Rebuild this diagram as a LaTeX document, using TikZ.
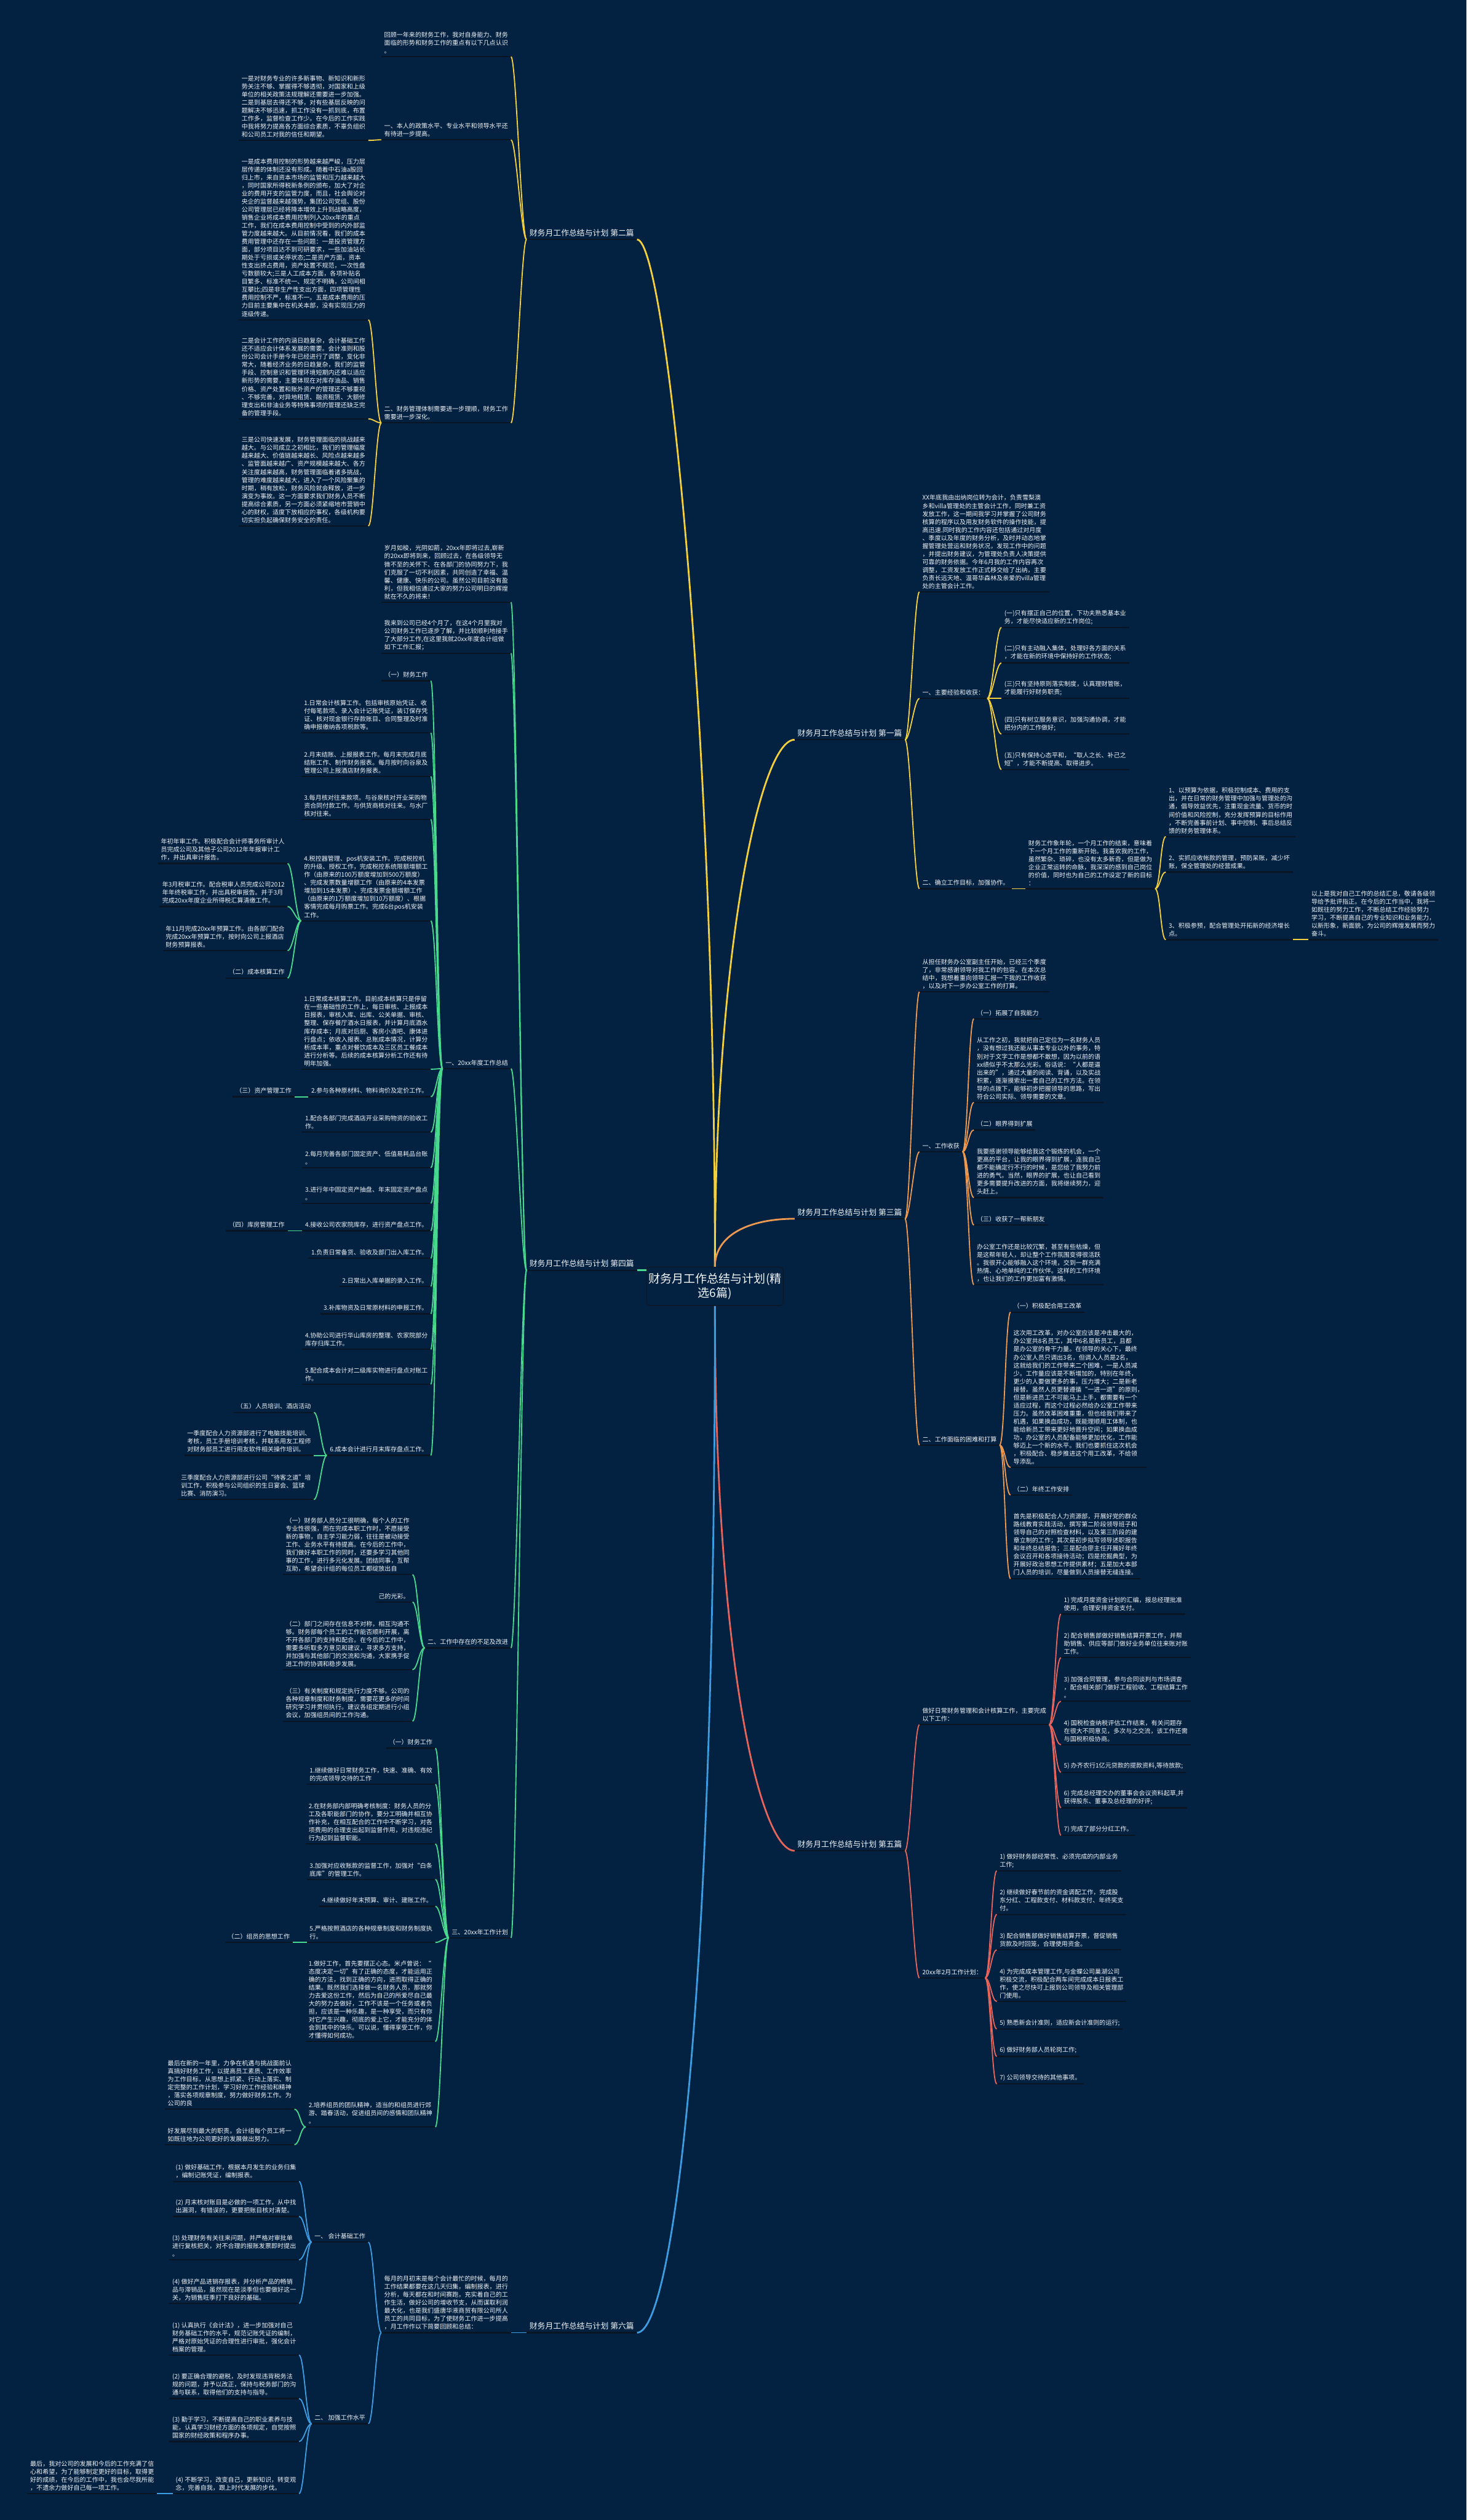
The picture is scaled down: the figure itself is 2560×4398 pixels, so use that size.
\documentclass[tikz,border=0pt]{standalone}
\usepackage{fontspec}
\setmainfont{Noto Sans CJK SC}
\usepackage{tikz}
\definecolor{bgnavy}{HTML}{032241}
\definecolor{ulinecol}{HTML}{0A1524}
\definecolor{textcol}{HTML}{F2F4F7}
\definecolor{rootborder}{HTML}{0C1828}
\definecolor{yellowbr}{HTML}{F4D03F}
\definecolor{orangebr}{HTML}{EE9950}
\definecolor{greenbr}{HTML}{48D88E}
\definecolor{redbr}{HTML}{E5645C}
\definecolor{bluebr}{HTML}{3C9DE2}
\newcommand{\leaffont}{\fontsize{10.8}{14}\selectfont}
\newcommand{\topicfont}{\fontsize{13.8}{17}\selectfont}
\newcommand{\rootfont}{\fontsize{20.5}{24}\selectfont}
\tikzset{
  leaf/.style={text=textcol, font=\leaffont, align=left, inner xsep=5pt, inner ysep=5pt,
    append after command={(\tikzlastnode.south west) edge[draw=ulinecol, line width=2.4pt] (\tikzlastnode.south east)}},
  topic/.style={leaf, font=\topicfont},
  rootbox/.style={draw=rootborder, line width=1.5pt, fill=bgnavy, rounded corners=5pt, text=textcol,
    font=\rootfont, align=center, minimum width=235pt, minimum height=67pt, inner sep=3pt},
  lnk/.style={line width=2pt},
  lkl/.style={lnk, to path={.. controls +(-9,0) and +(9,0) .. (\tikztotarget)}},
  lkr/.style={lnk, to path={.. controls +(9,0) and +(-9,0) .. (\tikztotarget)}},
  rootlnk/.style={line width=3pt}
}

\begin{document}
\begin{tikzpicture}[x=1pt, y=-1pt]
    \fill[bgnavy] (0,0) rectangle (2560,4398);
    \useasboundingbox (0,0) rectangle (2560,4398);

    \node[rootbox] (root) at (1248,2245) {财务月工作总结与计划(精\\选6篇)};

    \node[topic, anchor=south east] (p2) at (1112,418) {财务月工作总结与计划 第二篇};
    \node[topic, anchor=south east] (p4) at (1112,2217) {财务月工作总结与计划 第四篇};
    \node[topic, anchor=south east] (p6) at (1112,4071) {财务月工作总结与计划 第六篇};
    \node[topic, anchor=south west] (p1) at (1387,1291) {财务月工作总结与计划 第一篇};
    \node[topic, anchor=south west] (p3) at (1387,2127) {财务月工作总结与计划 第三篇};
    \node[topic, anchor=south west] (p5) at (1387,3230) {财务月工作总结与计划 第五篇};

    \draw[rootlnk, yellowbr] (root.north) .. controls +(0,-950) and +(50,0) .. (p2.south east);
    \draw[rootlnk, yellowbr] (root.north) .. controls +(0,-550) and +(-60,0) .. (p1.south west);
    \draw[rootlnk, orangebr] (root.north) .. controls +(0,-55) and +(-80,0) .. (p3.south west);
    \draw[rootlnk, greenbr] (p4.south east) -- (p4.south east -| root.west);
    \draw[rootlnk, redbr] (root.south) .. controls +(0,620) and +(-60,0) .. (p5.south west);
    \draw[rootlnk, bluebr] (root.south) .. controls +(0,1250) and +(60,0) .. (p6.south east);

    \node[leaf, anchor=south east] (b2a) at (892,99) {回顾一年来的财务工作，我对自身能力、财务\\面临的形势和财务工作的重点有以下几点认识\\。};
    \node[leaf, anchor=south east] (b2b) at (892,244) {一、本人的政策水平、专业水平和领导水平还\\有待进一步提高。};
    \node[leaf, anchor=south east] (b2c) at (892,738) {二、财务管理体制需要进一步理顺，财务工作\\需要进一步深化。};
    \node[leaf, anchor=south east] (b2d) at (643,245) {一是对财务专业的许多新事物、新知识和新形\\势关注不够、掌握得不够透彻，对国家和上级\\单位的相关政策法规理解还需要进一步加强。\\二是到基层去得还不够，对有些基层反映的问\\题解决不够迅速，抓工作没有一抓到底，布置\\工作多，监督检查工作少。在今后的工作实践\\中我将努力提高各方面综合素质，不辜负组织\\和公司员工对我的信任和期望。};
    \node[leaf, anchor=south east] (b2e) at (643,558) {一是成本费用控制的形势越来越严峻，压力层\\层传递的体制还没有形成。随着中石油a股回\\归上市，来自资本市场的监管和压力越来越大\\，同时国家所得税新条例的颁布，加大了对企\\业的费用开支的监管力度，而且，社会舆论对\\央企的监督越来越强势，集团公司党组、股份\\公司管理层已经将降本增效上升到战略高度，\\销售企业将成本费用控制列入20xx年的重点\\工作，我们在成本费用控制中受到的内外部监\\管力度越来越大。从目前情况看，我们的成本\\费用管理中还存在一些问题：一是投资管理方\\面，部分项目达不到可研要求，一些加油站长\\期处于亏损或关停状态;二是资产方面，资本\\性支出挤占费用，资产处置不规范，一次性盘\\亏数额较大;三是人工成本方面，各项补贴名\\目繁多、标准不统一、规定不明确，公司间相\\互攀比;四是非生产性支出方面，四项管理性\\费用控制不严，标准不一。五是成本费用的压\\力目前主要集中在机关本部，没有实现压力的\\逐级传递。};
    \node[leaf, anchor=south east] (b2f) at (643,731) {二是会计工作的内涵日趋复杂，会计基础工作\\还不适应会计体系发展的需要。会计准则和股\\份公司会计手册今年已经进行了调整，变化非\\常大，随着经济业务的日趋复杂，我们的监管\\手段、控制意识和管理环境短期内还难以适应\\新形势的需要，主要体现在对库存油品、销售\\价格、资产处置和账外资产的管理还不够重视\\、不够完善，对异地租赁、融资租赁、大额修\\理支出和非油业务等特殊事项的管理还缺乏完\\备的管理手段。};
    \node[leaf, anchor=south east] (b2g) at (643,918) {三是公司快速发展，财务管理面临的挑战越来\\越大。与公司成立之初相比，我们的管理幅度\\越来越大、价值链越来越长、风险点越来越多\\、监管面越来越广、资产规模越来越大、各方\\关注度越来越高，财务管理面临着诸多挑战，\\管理的难度越来越大，进入了一个风险聚集的\\时期，稍有放松，财务风险就会释放，进一步\\演变为事故。这一方面要求我们财务人员不断\\提高综合素质，另一方面必须紧缩地市营销中\\心的财权，适度下放相应的事权，各级机构要\\切实担负起确保财务安全的责任。};

    \draw[lkl, yellowbr] (p2.south west) to (b2a.south east);
    \draw[lkl, yellowbr] (p2.south west) to (b2b.south east);
    \draw[lkl, yellowbr] (p2.south west) to (b2c.south east);
    \draw[lkl, yellowbr] (b2b.south west) to (b2d.south east);
    \draw[lkl, yellowbr] (b2c.south west) to (b2e.south east);
    \draw[lkl, yellowbr] (b2c.south west) to (b2f.south east);
    \draw[lkl, yellowbr] (b2c.south west) to (b2g.south east);

    \node[leaf, anchor=south east] (d1) at (892,1051) {岁月如梭，光阴如箭，20xx年即将过去,崭新\\的20xx即将到来，回顾过去，在各级领导无\\微不至的关怀下、在各部门的协同努力下，我\\们克服了一切不利因素，共同创造了幸福、温\\馨、健康、快乐的公司。虽然公司目前没有盈\\利，但我相信通过大家的努力公司明日的辉煌\\就在不久的将来！};
    \node[leaf, anchor=south east] (d2) at (892,1140) {我来到公司已经4个月了，在这4个月里我对\\公司财务工作已逐步了解，并比较顺利地接手\\了大部分工作,在这里我就20xx年度会计组做\\如下工作汇报；};
    \node[leaf, anchor=south east] (d3) at (892,1865) {一、20xx年度工作总结};
    \node[leaf, anchor=south east] (d4) at (892,2876) {二、工作中存在的不足及改进};
    \node[leaf, anchor=south east] (d5) at (892,3382) {三、20xx年工作计划};

    \node[leaf, anchor=south east] (e1) at (752,1188) {（一）财务工作};
    \node[leaf, anchor=south east] (e2) at (752,1279) {1.日常会计核算工作。包括审核原始凭证、收\\付每笔款项、录入会计记账凭证，装订保存凭\\证、核对现金银行存款账目、合同整理及时准\\确申报缴纳各项税款等。};
    \node[leaf, anchor=south east] (e3) at (752,1355) {2.月末结账、上报报表工作。每月末完成月底\\结账工作、制作财务报表。每月按时向谷泉及\\管理公司上报酒店财务报表。};
    \node[leaf, anchor=south east] (e4) at (752,1430) {3.每月核对往来款项。与谷泉核对开业采购物\\资合同付款工作。与供货商核对往来。与水厂\\核对往来。};
    \node[leaf, anchor=south east] (e5) at (752,1607) {4.税控器管理、pos机安装工作。完成税控机\\的升级、授权工作，完成税控系统限额增额工\\作（由原来的100万额度增加到500万额度）\\、完成发票数量增额工作（由原来的4本发票\\增加到15本发票）、完成发票金额增额工作\\（由原来的1万额度增加到10万额度）、根据\\客情完成每月购票工作。完成6台pos机安装\\工作。};
    \node[leaf, anchor=south east] (f1) at (502,1507) {年初年审工作。积极配合会计师事务所审计人\\员完成公司及其他子公司2012年年报审计工\\作，并出具审计报告。};
    \node[leaf, anchor=south east] (f2) at (502,1582) {年3月税审工作。配合税审人员完成公司2012\\年年终税审工作，并出具税审报告。并于3月\\完成20xx年度企业所得税汇算清缴工作。};
    \node[leaf, anchor=south east] (f3) at (502,1659) {年11月完成20xx年预算工作。由各部门配合\\完成20xx年预算工作，按时向公司上报酒店\\财务预算报表。};
    \node[leaf, anchor=south east] (f4) at (502,1707) {（二）成本核算工作};
    \node[leaf, anchor=south east] (e6) at (752,1866) {1.日常成本核算工作。目前成本核算只是停留\\在一些基础性的工作上，每日审核、上报成本\\日报表，审核入库、出库、公关单据、审核、\\整理、保存餐厅酒水日报表，并计算月底酒水\\库存成本；月底对后厨、客房小酒吧、康体进\\行盘点；依收入报表、总账成本情况，计算分\\析成本率，重点对餐饮成本及三区员工餐成本\\进行分析等。后续的成本核算分析工作还有待\\明年加强。};
    \node[leaf, anchor=south east] (e7) at (752,1914) {2.参与各种原材料、物料询价及定价工作。};
    \node[leaf, anchor=south east] (g7) at (514,1914) {（三）资产管理工作};
    \node[leaf, anchor=south east] (e8) at (752,1976) {1.配合各部门完成酒店开业采购物资的验收工\\作。};
    \node[leaf, anchor=south east] (e9) at (752,2038) {2.每月完善各部门固定资产、低值易耗品台账\\。};
    \node[leaf, anchor=south east] (e10) at (752,2100) {3.进行年中固定资产抽盘、年末固定资产盘点\\。};
    \node[leaf, anchor=south east] (e11) at (752,2148) {4.接收公司农家院库存，进行资产盘点工作。};
    \node[leaf, anchor=south east] (g11) at (502,2148) {（四）库房管理工作};
    \node[leaf, anchor=south east] (e12) at (752,2196) {1.负责日常备货、验收及部门出入库工作。};
    \node[leaf, anchor=south east] (e13) at (752,2245) {2.日常出入库单据的录入工作。};
    \node[leaf, anchor=south east] (e14) at (752,2293) {3.补库物资及日常原材料的申报工作。};
    \node[leaf, anchor=south east] (e15) at (752,2355) {4.协助公司进行华山库房的整理、农家院部分\\库存归库工作。};
    \node[leaf, anchor=south east] (e16) at (752,2416) {5.配合成本会计对二级库实物进行盘点对账工\\作。};
    \node[leaf, anchor=south east] (e17) at (752,2540) {6.成本会计进行月末库存盘点工作。};
    \node[leaf, anchor=south east] (h1) at (548,2465) {（五）人员培训、酒店活动};
    \node[leaf, anchor=south east] (h2) at (548,2540) {一季度配合人力资源部进行了电脑技能培训、\\考核，员工手册培训考核，并联系用友工程师\\对财务部员工进行用友软件相关操作培训。};
    \node[leaf, anchor=south east] (h3) at (548,2617) {三季度配合人力资源部进行公司“待客之道”培\\训工作，积极参与公司组织的生日宴会、篮球\\比赛、消防演习。};

    \node[leaf, anchor=south east] (i1) at (720,2748) {（一）财务部人员分工很明确，每个人的工作\\专业性很强，而在完成本职工作时，不愿接受\\新的事物，自主学习能力弱，往往是被动接受\\工作、业务水平有待提高。在今后的工作中，\\我们做好本职工作的同时，还要多学习其他同\\事的工作，进行多元化发展。团结同事，互帮\\互助，希望会计组的每位员工都绽放出自};
    \node[leaf, anchor=south east] (i2) at (720,2796) {己的光彩。};
    \node[leaf, anchor=south east] (i3) at (720,2914) {（二）部门之间存在信息不对称，相互沟通不\\够。财务部每个员工的工作能否顺利开展，离\\不开各部门的支持和配合。在今后的工作中，\\需要多听取多方意见和建议，寻求多方支持，\\并加强与其他部门的交流和沟通，大家携手促\\进工作的协调和稳步发展。};
    \node[leaf, anchor=south east] (i4) at (720,3004) {（三）有关制度和规定执行力度不够。公司的\\各种规章制度和财务制度，需要花更多的时间\\研究学习并贯彻执行。建议各组定期进行小组\\会议，加强组员间的工作沟通。};

    \node[leaf, anchor=south east] (j1) at (760,3051) {（一）财务工作};
    \node[leaf, anchor=south east] (j2) at (760,3114) {1.继续做好日常财务工作，快速、准确、有效\\的完成领导交待的工作};
    \node[leaf, anchor=south east] (j3) at (760,3218) {2.在财务部内部明确考核制度：财务人员的分\\工及各职能部门的协作，要分工明确并相互协\\作补充，在相互配合的工作中不断学习，对各\\项费用的合理支出起到监督作用，对违规违纪\\行为起到监督职能。};
    \node[leaf, anchor=south east] (j4) at (760,3280) {3.加强对应收账款的监督工作，加强对“白条\\底库”的管理工作。};
    \node[leaf, anchor=south east] (j5) at (760,3327) {4.继续做好年末预算、审计、建账工作。};
    \node[leaf, anchor=south east] (j6) at (760,3390) {5.严格按照酒店的各种规章制度和财务制度执\\行。};
    \node[leaf, anchor=south east] (k6) at (511,3390) {（二）组员的思想工作};
    \node[leaf, anchor=south east] (j7) at (760,3563) {1.做好工作，首先要摆正心态。米卢曾说：“\\态度决定一切”有了正确的态度，才能运用正\\确的方法，找到正确的方向，进而取得正确的\\结果。既然我们选择做一名财务人员，那就努\\力去爱这份工作，然后为自己的所爱尽自己最\\大的努力去做好，工作不该是一个任务或者负\\担，应该是一种乐趣，是一种享受，而只有你\\对它产生兴趣，彻底的爱上它，才能充分的体\\会到其中的快乐。可以说，懂得享受工作，你\\才懂得如何成功。};
    \node[leaf, anchor=south east] (j8) at (760,3712) {2.培养组员的团队精神，适当的和组员进行郊\\游、踏春活动，促进组员间的感情和团队精神\\。};
    \node[leaf, anchor=south east] (k8a) at (514,3681) {最后在新的一年里，力争在机遇与挑战面前认\\真搞好财务工作，以提高员工素质、工作效率\\为工作目标，从思想上抓紧、行动上落实、制\\定完整的工作计划，学习好的工作经验和精神\\，落实各项规章制度，努力做好财务工作。为\\公司的良};
    \node[leaf, anchor=south east] (k8b) at (514,3743) {好发展尽到最大的职责。会计组每个员工将一\\如既往地为公司更好的发展做出努力。};

    \draw[lkl, greenbr] (p4.south west) to (d1.south east);
    \draw[lkl, greenbr] (p4.south west) to (d2.south east);
    \draw[lkl, greenbr] (p4.south west) to (d3.south east);
    \draw[lkl, greenbr] (p4.south west) to (d4.south east);
    \draw[lkl, greenbr] (p4.south west) to (d5.south east);
    \draw[lkl, greenbr] (d3.south west) to (e1.south east);
    \draw[lkl, greenbr] (d3.south west) to (e2.south east);
    \draw[lkl, greenbr] (d3.south west) to (e3.south east);
    \draw[lkl, greenbr] (d3.south west) to (e4.south east);
    \draw[lkl, greenbr] (d3.south west) to (e5.south east);
    \draw[lkl, greenbr] (d3.south west) to (e6.south east);
    \draw[lkl, greenbr] (d3.south west) to (e7.south east);
    \draw[lkl, greenbr] (d3.south west) to (e8.south east);
    \draw[lkl, greenbr] (d3.south west) to (e9.south east);
    \draw[lkl, greenbr] (d3.south west) to (e10.south east);
    \draw[lkl, greenbr] (d3.south west) to (e11.south east);
    \draw[lkl, greenbr] (d3.south west) to (e12.south east);
    \draw[lkl, greenbr] (d3.south west) to (e13.south east);
    \draw[lkl, greenbr] (d3.south west) to (e14.south east);
    \draw[lkl, greenbr] (d3.south west) to (e15.south east);
    \draw[lkl, greenbr] (d3.south west) to (e16.south east);
    \draw[lkl, greenbr] (d3.south west) to (e17.south east);
    \draw[lkl, greenbr] (e5.south west) to (f1.south east);
    \draw[lkl, greenbr] (e5.south west) to (f2.south east);
    \draw[lkl, greenbr] (e5.south west) to (f3.south east);
    \draw[lkl, greenbr] (e5.south west) to (f4.south east);
    \draw[lkl, greenbr] (e7.south west) to (g7.south east);
    \draw[lkl, greenbr] (e11.south west) to (g11.south east);
    \draw[lkl, greenbr] (e17.south west) to (h1.south east);
    \draw[lkl, greenbr] (e17.south west) to (h2.south east);
    \draw[lkl, greenbr] (e17.south west) to (h3.south east);
    \draw[lkl, greenbr] (d4.south west) to (i1.south east);
    \draw[lkl, greenbr] (d4.south west) to (i2.south east);
    \draw[lkl, greenbr] (d4.south west) to (i3.south east);
    \draw[lkl, greenbr] (d4.south west) to (i4.south east);
    \draw[lkl, greenbr] (d5.south west) to (j1.south east);
    \draw[lkl, greenbr] (d5.south west) to (j2.south east);
    \draw[lkl, greenbr] (d5.south west) to (j3.south east);
    \draw[lkl, greenbr] (d5.south west) to (j4.south east);
    \draw[lkl, greenbr] (d5.south west) to (j5.south east);
    \draw[lkl, greenbr] (d5.south west) to (j6.south east);
    \draw[lkl, greenbr] (d5.south west) to (j7.south east);
    \draw[lkl, greenbr] (d5.south west) to (j8.south east);
    \draw[lkl, greenbr] (j6.south west) to (k6.south east);
    \draw[lkl, greenbr] (j8.south west) to (k8a.south east);
    \draw[lkl, greenbr] (j8.south west) to (k8b.south east);

    \node[leaf, anchor=south east] (m0) at (892,4071) {每月的月初末是每个会计最忙的时候，每月的\\工作结果都要在这几天归集，编制报表，进行\\分析，每天都在和时间赛跑，充实着自己的工\\作生活，做好公司的增收节支，从而谋取利润\\最大化，也是我们盛唐华液商贸有限公司所人\\员工的共同目标，为了使财务工作进一步提高\\，月工作作以下简要回顾和总结：};
    \node[leaf, anchor=south east] (m1) at (643,3913) {一、 会计基础工作};
    \node[leaf, anchor=south east] (m2) at (643,4230) {二、 加强工作水平};
    \node[leaf, anchor=south east] (n1) at (522,3807) {(1) 做好基础工作，根据本月发生的业务归集\\，编制记账凭证，编制报表。};
    \node[leaf, anchor=south east] (n2) at (522,3868) {(2) 月末核对账目是必做的一项工作，从中找\\出漏洞，有错误的，更要把账目核对清楚。};
    \node[leaf, anchor=south east] (n3) at (522,3944) {(3) 处理财务有关往来问题，并严格对审批单\\进行复核把关，对不合理的报账发票即时提出\\。};
    \node[leaf, anchor=south east] (n4) at (522,4020) {(4) 做好产品进销存报表，并分析产品的畅销\\品与滞销品，虽然现在是淡季但也要做好这一\\关，为销售旺季打下良好的基础。};
    \node[leaf, anchor=south east] (n5) at (522,4110) {(1) 认真执行《会计法》，进一步加强对自己\\财务基础工作的水平，规范记账凭证的编制，\\严格对原始凭证的合理性进行审批，强化会计\\档案的管理。};
    \node[leaf, anchor=south east] (n6) at (522,4186) {(2) 要正确合理的避税，及时发现违背税务法\\规的问题，并予以改正，保持与税务部门的沟\\通与联系，取得他们的支持与指导。};
    \node[leaf, anchor=south east] (n7) at (522,4261) {(3) 勤于学习，不断提高自己的职业素养与技\\能，认真学习财经方面的各项规定，自觉按照\\国家的财经政策和程序办事。};
    \node[leaf, anchor=south east] (n8) at (522,4352) {(4) 不断学习，改变自己，更新知识，转变观\\念，完善自我，跟上时代发展的步伐。};
    \node[leaf, anchor=south east] (n9) at (274,4352) {最后，我对公司的发展和今后的工作充满了信\\心和希望，为了能够制定更好的目标，取得更\\好的成绩，在今后的工作中，我也会尽我所能\\，不遗余力做好自己每一项工作。};

    \draw[lkl, bluebr] (p6.south west) to (m0.south east);
    \draw[lkl, bluebr] (m0.south west) to (m1.south east);
    \draw[lkl, bluebr] (m0.south west) to (m2.south east);
    \draw[lkl, bluebr] (m1.south west) to (n1.south east);
    \draw[lkl, bluebr] (m1.south west) to (n2.south east);
    \draw[lkl, bluebr] (m1.south west) to (n3.south east);
    \draw[lkl, bluebr] (m1.south west) to (n4.south east);
    \draw[lkl, bluebr] (m2.south west) to (n5.south east);
    \draw[lkl, bluebr] (m2.south west) to (n6.south east);
    \draw[lkl, bluebr] (m2.south west) to (n7.south east);
    \draw[lkl, bluebr] (m2.south west) to (n8.south east);
    \draw[lkl, bluebr] (n8.south west) to (n9.south east);

    \node[leaf, anchor=south west] (q1) at (1605,1033) {XX年底我由出纳岗位转为会计，负责雪梨澳\\乡和villa管理处的主管会计工作，同时兼工资\\发放工作，这一期间我学习并掌握了公司财务\\核算的程序以及用友财务软件的操作技能，提\\高迅速.同时我的工作内容还包括通过对月度\\、季度以及年度的财务分析，及时并动态地掌\\握管理处营运和财务状况，发现工作中的问题\\，并提出财务建议，为管理处负责人决策提供\\可靠的财务依据。今年6月我的工作内容再次\\调整，工资发放工作正式移交给了出纳，主要\\负责长远天地、温哥华森林及亲爱的villa管理\\处的主管会计工作。};
    \node[leaf, anchor=south west] (q2) at (1605,1219) {一、主要经验和收获：};
    \node[leaf, anchor=south west] (q3) at (1605,1551) {二、确立工作目标，加强协作。};
    \node[leaf, anchor=south west] (r1) at (1748,1095) {(一)只有摆正自己的位置，下功夫熟悉基本业\\务，才能尽快适应新的工作岗位;};
    \node[leaf, anchor=south west] (r2) at (1748,1157) {(二)只有主动融入集体，处理好各方面的关系\\，才能在新的环境中保持好的工作状态;};
    \node[leaf, anchor=south west] (r3) at (1748,1219) {(三)只有坚持原则落实制度，认真理财管账，\\才能履行好财务职责;};
    \node[leaf, anchor=south west] (r4) at (1748,1281) {(四)只有树立服务意识，加强沟通协调，才能\\把分内的工作做好;};
    \node[leaf, anchor=south west] (r5) at (1748,1343) {(五)只有保持心态平和，“取人之长、补己之\\短”，才能不断提高、取得进步。};
    \node[leaf, anchor=south west] (s0) at (1790,1551) {财务工作象年轮，一个月工作的结束，意味着\\下一个月工作的重新开始。我喜欢我的工作，\\虽然繁杂、琐碎，也没有太多新奇，但是做为\\企业正常运转的命脉，我深深的感到自己岗位\\的价值，同时也为自己的工作设定了新的目标\\：};
    \node[leaf, anchor=south west] (t1) at (2035,1460) {1、以预算为依据，积极控制成本、费用的支\\出，并在日常的财务管理中加强与管理处的沟\\通，倡导效益优先，注重现金流量、货币的时\\间价值和风险控制，充分发挥预算的目标作用\\，不断完善事前计划、事中控制、事后总结反\\馈的财务管理体系。};
    \node[leaf, anchor=south west] (t2) at (2035,1522) {2、实抓应收帐款的管理，预防呆账，减少坏\\账，保全管理处的经营成果。};
    \node[leaf, anchor=south west] (t3) at (2035,1640) {3、积极参预，配合管理处开拓新的经济增长\\点。};
    \node[leaf, anchor=south west] (t4) at (2284,1640) {以上是我对自己工作的总结汇总，敬请各级领\\导给予批评指正。在今后的工作当中，我将一\\如既往的努力工作，不断总结工作经验努力\\学习，不断提高自己的专业知识和业务能力，\\以新形象，新面貌，为公司的辉煌发展而努力\\奋斗。};

    \draw[lkr, yellowbr] (p1.south east) to (q1.south west);
    \draw[lkr, yellowbr] (p1.south east) to (q2.south west);
    \draw[lkr, yellowbr] (p1.south east) to (q3.south west);
    \draw[lkr, yellowbr] (q2.south east) to (r1.south west);
    \draw[lkr, yellowbr] (q2.south east) to (r2.south west);
    \draw[lkr, yellowbr] (q2.south east) to (r3.south west);
    \draw[lkr, yellowbr] (q2.south east) to (r4.south west);
    \draw[lkr, yellowbr] (q2.south east) to (r5.south west);
    \draw[lkr, yellowbr] (q3.south east) to (s0.south west);
    \draw[lkr, yellowbr] (s0.south east) to (t1.south west);
    \draw[lkr, yellowbr] (s0.south east) to (t2.south west);
    \draw[lkr, yellowbr] (s0.south east) to (t3.south west);
    \draw[lkr, yellowbr] (t3.south east) to (t4.south west);

    \node[leaf, anchor=south west] (v1) at (1605,1731) {从担任财务办公室副主任开始，已经三个季度\\了，非常感谢领导对我工作的包容。在本次总\\结中，我想着重向领导汇报一下我的工作收获\\，以及对下一步办公室工作的打算。};
    \node[leaf, anchor=south west] (v2) at (1605,2010) {一、工作收获};
    \node[leaf, anchor=south west] (v3) at (1605,2522) {二、工作面临的困难和打算};
    \node[leaf, anchor=south west] (w1) at (1700,1778) {（一）拓展了自我能力};
    \node[leaf, anchor=south west] (w2) at (1700,1924) {从工作之初，我就把自己定位为一名财务人员\\，没有想过我还能从事本专业以外的事务，特\\别对于文字工作是想都不敢想，因为以前的语\\xx绩似乎不太那么光彩。俗话说：“人都是逼\\出来的”，通过大量的阅读、背诵，以及实战\\积累，逐渐摸索出一套自己的工作方法。在领\\导的点拨下，能够初步把握领导的思路，写出\\符合公司实际、领导需要的文章。};
    \node[leaf, anchor=south west] (w3) at (1700,1972) {（二）眼界得到扩展};
    \node[leaf, anchor=south west] (w4) at (1700,2090) {我要感谢领导能够给我这个锻炼的机会，一个\\更高的平台，让我的眼界得到扩展，连我自己\\都不能确定行不行的时候，是您给了我努力前\\进的勇气。当然，眼界的扩展，也让自己看到\\更多需要提升改进的方面，我将继续努力，迎\\头赶上。};
    \node[leaf, anchor=south west] (w5) at (1700,2138) {（三）收获了一帮新朋友};
    \node[leaf, anchor=south west] (w6) at (1700,2242) {办公室工作还是比较冗繁，甚至有些枯燥，但\\是这帮年轻人，却让整个工作氛围变得很活跃\\。我很开心能够融入这个环境，交到一群充满\\热情、心地单纯的工作伙伴。这样的工作环境\\，也让我们的工作更加富有激情。};
    \node[leaf, anchor=south west] (x1) at (1764,2290) {（一）积极配合用工改革};
    \node[leaf, anchor=south west] (x2) at (1764,2561) {这次用工改革，对办公室应该是冲击最大的，\\办公室共8名员工，其中6名是新员工，且都\\是办公室的骨干力量。在领导的关心下，最终\\办公室人员只调出3名，但调入人员是2名，\\这就给我们的工作带来二个困难，一是人员减\\少。工作量应该是不断增加的，特别在年终，\\更少的人要做更多的事，压力增大；二是新老\\接替。虽然人员更替遵循“一进一退”的原则，\\但是新进员工不可能马上上手，都需要有一个\\适应过程，而这个过程必然给办公室工作带来\\压力。虽然改革困难重重，但也给我们带来了\\机遇，如果换血成功，既能理顺用工体制，也\\能给新员工带来更好地晋升空间；如果换血成\\功，办公室的人员配备能够更加优化，工作能\\够迈上一个新的水平。我们也要抓住这次机会\\，积极配合、稳步推进这个用工改革，不给领\\导添乱。};
    \node[leaf, anchor=south west] (x3) at (1764,2609) {（二）年终工作安排};
    \node[leaf, anchor=south west] (x4) at (1764,2755) {首先是积极配合人力资源部，开展好党的群众\\路线教育实践活动，撰写第二阶段领导班子和\\领导自己的对照检查材料，以及第三阶段的建\\章立制的工作；其次是初步拟写领导述职报告\\和年终总结报告；三是配合廖主任开展好年终\\会议召开和各项接待活动；四是挖掘典型，为\\开展好政治思想工作提供素材；五是加大本部\\门人员的培训，尽量做到人员接替无缝连接。};

    \draw[lkr, orangebr] (p3.south east) to (v1.south west);
    \draw[lkr, orangebr] (p3.south east) to (v2.south west);
    \draw[lkr, orangebr] (p3.south east) to (v3.south west);
    \draw[lkr, orangebr] (v2.south east) to (w1.south west);
    \draw[lkr, orangebr] (v2.south east) to (w2.south west);
    \draw[lkr, orangebr] (v2.south east) to (w3.south west);
    \draw[lkr, orangebr] (v2.south east) to (w4.south west);
    \draw[lkr, orangebr] (v2.south east) to (w5.south west);
    \draw[lkr, orangebr] (v2.south east) to (w6.south west);
    \draw[lkr, orangebr] (v3.south east) to (x1.south west);
    \draw[lkr, orangebr] (v3.south east) to (x2.south west);
    \draw[lkr, orangebr] (v3.south east) to (x3.south west);
    \draw[lkr, orangebr] (v3.south east) to (x4.south west);

    \node[leaf, anchor=south west] (y1) at (1605,3010) {做好日常财务管理和会计核算工作，主要完成\\以下工作：};
    \node[leaf, anchor=south west] (y2) at (1605,3452) {20xx年2月工作计划：};
    \node[leaf, anchor=south west] (z1) at (1852,2817) {1) 完成月度资金计划的汇编，报总经理批准\\使用，合理安排资金支付。};
    \node[leaf, anchor=south west] (z2) at (1852,2893) {2) 配合销售部做好销售结算开票工作，并帮\\助销售、供应等部门做好业务单位往来账对账\\工作。};
    \node[leaf, anchor=south west] (z3) at (1852,2969) {3) 加强合同管理，参与合同谈判与市场调查\\，配合相关部门做好工程验收、工程结算工作\\。};
    \node[leaf, anchor=south west] (z4) at (1852,3045) {4) 国税检查纳税评估工作结束，有关问题存\\在很大不同意见，多次与之交流，该工作还需\\与国税积极协商。};
    \node[leaf, anchor=south west] (z5) at (1852,3093) {5) 办齐农行1亿元贷款的提款资料,等待放款;};
    \node[leaf, anchor=south west] (z6) at (1852,3155) {6) 完成总经理交办的董事会会议资料起草,并\\获得股东、董事及总经理的好评;};
    \node[leaf, anchor=south west] (z7) at (1852,3203) {7) 完成了部分分红工作。};
    \node[leaf, anchor=south west] (u1) at (1740,3265) {1) 做好财务部经常性、必须完成的内部业务\\工作;};
    \node[leaf, anchor=south west] (u2) at (1740,3341) {2) 继续做好春节前的资金调配工作，完成股\\东分红、工程款支付、材料款支付、年终奖支\\付。};
    \node[leaf, anchor=south west] (u3) at (1740,3403) {3) 配合销售部做好销售结算开票，督促销售\\货款及时回笼，合理使用资金。};
    \node[leaf, anchor=south west] (u4) at (1740,3493) {4) 为完成成本管理工作,与金蝶公司巢湖公司\\积极交流，积极配合两车间完成成本日报表工\\作，使之尽快可上报到公司领导及相关管理部\\门使用。};
    \node[leaf, anchor=south west] (u5) at (1740,3541) {5) 熟悉新会计准则，适应新会计准则的运行;};
    \node[leaf, anchor=south west] (u6) at (1740,3589) {6) 做好财务部人员轮岗工作;};
    \node[leaf, anchor=south west] (u7) at (1740,3637) {7) 公司领导交待的其他事项。};

    \draw[lkr, redbr] (p5.south east) to (y1.south west);
    \draw[lkr, redbr] (p5.south east) to (y2.south west);
    \draw[lkr, redbr] (y1.south east) to (z1.south west);
    \draw[lkr, redbr] (y1.south east) to (z2.south west);
    \draw[lkr, redbr] (y1.south east) to (z3.south west);
    \draw[lkr, redbr] (y1.south east) to (z4.south west);
    \draw[lkr, redbr] (y1.south east) to (z5.south west);
    \draw[lkr, redbr] (y1.south east) to (z6.south west);
    \draw[lkr, redbr] (y1.south east) to (z7.south west);
    \draw[lkr, redbr] (y2.south east) to (u1.south west);
    \draw[lkr, redbr] (y2.south east) to (u2.south west);
    \draw[lkr, redbr] (y2.south east) to (u3.south west);
    \draw[lkr, redbr] (y2.south east) to (u4.south west);
    \draw[lkr, redbr] (y2.south east) to (u5.south west);
    \draw[lkr, redbr] (y2.south east) to (u6.south west);
    \draw[lkr, redbr] (y2.south east) to (u7.south west);
  \end{tikzpicture}
\end{document}
